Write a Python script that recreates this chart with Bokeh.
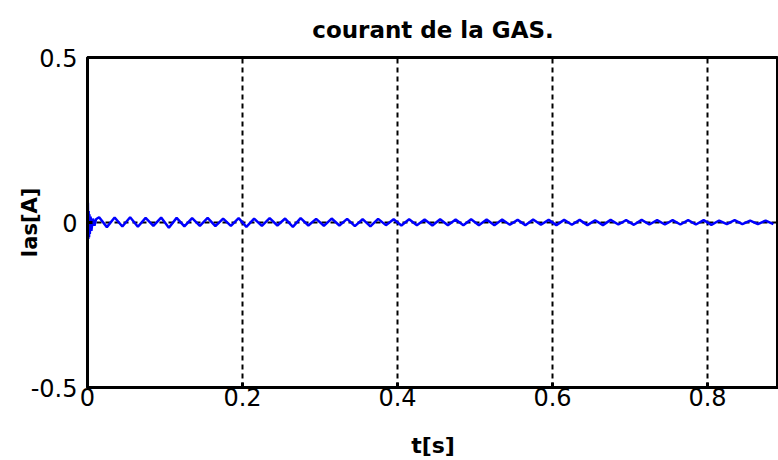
from bokeh.plotting import figure
from bokeh.models import Range1d, FixedTicker, CustomJSTickFormatter
from bokeh.embed import file_html
from bokeh.resources import INLINE

# transient at start
t_start = [0.0, 0.0005, 0.001, 0.0015, 0.002, 0.0025, 0.003, 0.004, 0.005, 0.007, 0.009, 0.011]
ias_start = [0.0, 0.06, -0.05, 0.035, -0.045, 0.025, -0.035, 0.018, -0.025, 0.012, -0.01, 0.01]

# extrema of the 50 Hz ripple
t_ripple = [0.015, 0.025, 0.035, 0.045, 0.055, 0.065, 0.075, 0.085, 0.095, 0.105,
            0.115, 0.125, 0.135, 0.145, 0.155, 0.165, 0.175, 0.185, 0.195, 0.205,
            0.215, 0.225, 0.235, 0.245, 0.255, 0.265, 0.275, 0.285, 0.295, 0.305,
            0.315, 0.325, 0.335, 0.345, 0.355, 0.365, 0.375, 0.385, 0.395, 0.405,
            0.415, 0.425, 0.435, 0.445, 0.455, 0.465, 0.475, 0.485, 0.495, 0.505,
            0.515, 0.525, 0.535, 0.545, 0.555, 0.565, 0.575, 0.585, 0.595, 0.605,
            0.615, 0.625, 0.635, 0.645, 0.655, 0.665, 0.675, 0.685, 0.695, 0.705,
            0.715, 0.725, 0.735, 0.745, 0.755, 0.765, 0.775, 0.785, 0.795, 0.805,
            0.815, 0.825, 0.835, 0.845, 0.855, 0.865, 0.875, 0.885]
ias_ripple = [0.016, -0.014, 0.015, -0.012, 0.016, -0.013, 0.014, -0.010, 0.015, -0.016,
              0.014, -0.012, 0.013, -0.010, 0.014, -0.011, 0.012, -0.010, 0.013, -0.013,
              0.012, -0.010, 0.013, -0.009, 0.012, -0.013, 0.013, -0.009, 0.011, -0.010,
              0.012, -0.009, 0.011, -0.011, 0.010, -0.012, 0.011, -0.008, 0.010, -0.009,
              0.010, -0.008, 0.009, -0.009, 0.010, -0.008, 0.009, -0.008, 0.010, -0.008,
              0.009, -0.008, 0.009, -0.007, 0.008, -0.008, 0.009, -0.007, 0.008, -0.008,
              0.008, -0.007, 0.008, -0.008, 0.007, -0.008, 0.008, -0.006, 0.007, -0.007,
              0.008, -0.006, 0.007, -0.006, 0.007, -0.006, 0.007, -0.006, 0.007, -0.007,
              0.006, -0.005, 0.007, -0.005, 0.006, -0.005, 0.006, -0.005]

x_ticks = [0, 0.2, 0.4, 0.6, 0.8]
y_ticks = [-0.5, 0, 0.5]

t = t_start + t_ripple
ias = ias_start + ias_ripple

FONT = "DejaVu Sans"

p = figure(width=778, height=460, output_backend="svg", toolbar_location=None,
           x_range=Range1d(0, 0.8916), y_range=Range1d(-0.5, 0.5),
           min_border_left=87, min_border_right=0, min_border_top=57, min_border_bottom=72)

p.line(t, ias, line_color="#0000ff", line_width=2.5)

p.title.text = "courant de la GAS."
p.title.align = "center"
p.title.text_font = FONT
p.title.text_font_size = "23px"
p.title.text_font_style = "bold"
p.title.text_color = "black"
p.title.standoff = 29

p.outline_line_color = "black"
p.outline_line_width = 3
p.background_fill_color = "white"
p.border_fill_color = "white"

bottom = p.below[0]
left = p.left[0]

fmt = CustomJSTickFormatter(code="return String(Math.round(tick*10)/10);")

for ax, ticks in ((bottom, x_ticks), (left, y_ticks)):
    ax.ticker = FixedTicker(ticks=ticks)
    ax.formatter = fmt
    ax.axis_line_color = "black"
    ax.axis_line_width = 3
    ax.major_tick_in = 5
    ax.major_tick_out = 0
    ax.major_tick_line_width = 3
    ax.minor_tick_line_color = None
    ax.major_label_text_font = FONT
    ax.major_label_text_font_size = "24px"
    ax.major_label_text_color = "black"
    ax.axis_label_text_font = FONT
    ax.axis_label_text_font_size = "22px"
    ax.axis_label_text_font_style = "bold"
    ax.axis_label_text_color = "black"

bottom.axis_label = "t[s]"
bottom.major_label_standoff = 0
bottom.axis_label_standoff = 24
left.axis_label = "Ias[A]"
left.axis_label_text_font_size = "21px"
left.major_label_standoff = 10
left.axis_label_standoff = -14

for g in (p.xgrid, p.ygrid):
    g.grid_line_color = "black"
    g.grid_line_dash = "5 4"
    g.grid_line_width = 2
    g.grid_line_alpha = 1.0
p.xgrid.ticker = FixedTicker(ticks=[0.2, 0.4, 0.6, 0.8])
p.ygrid.ticker = FixedTicker(ticks=[0])

open("out.html", "w").write(file_html(p, INLINE))
